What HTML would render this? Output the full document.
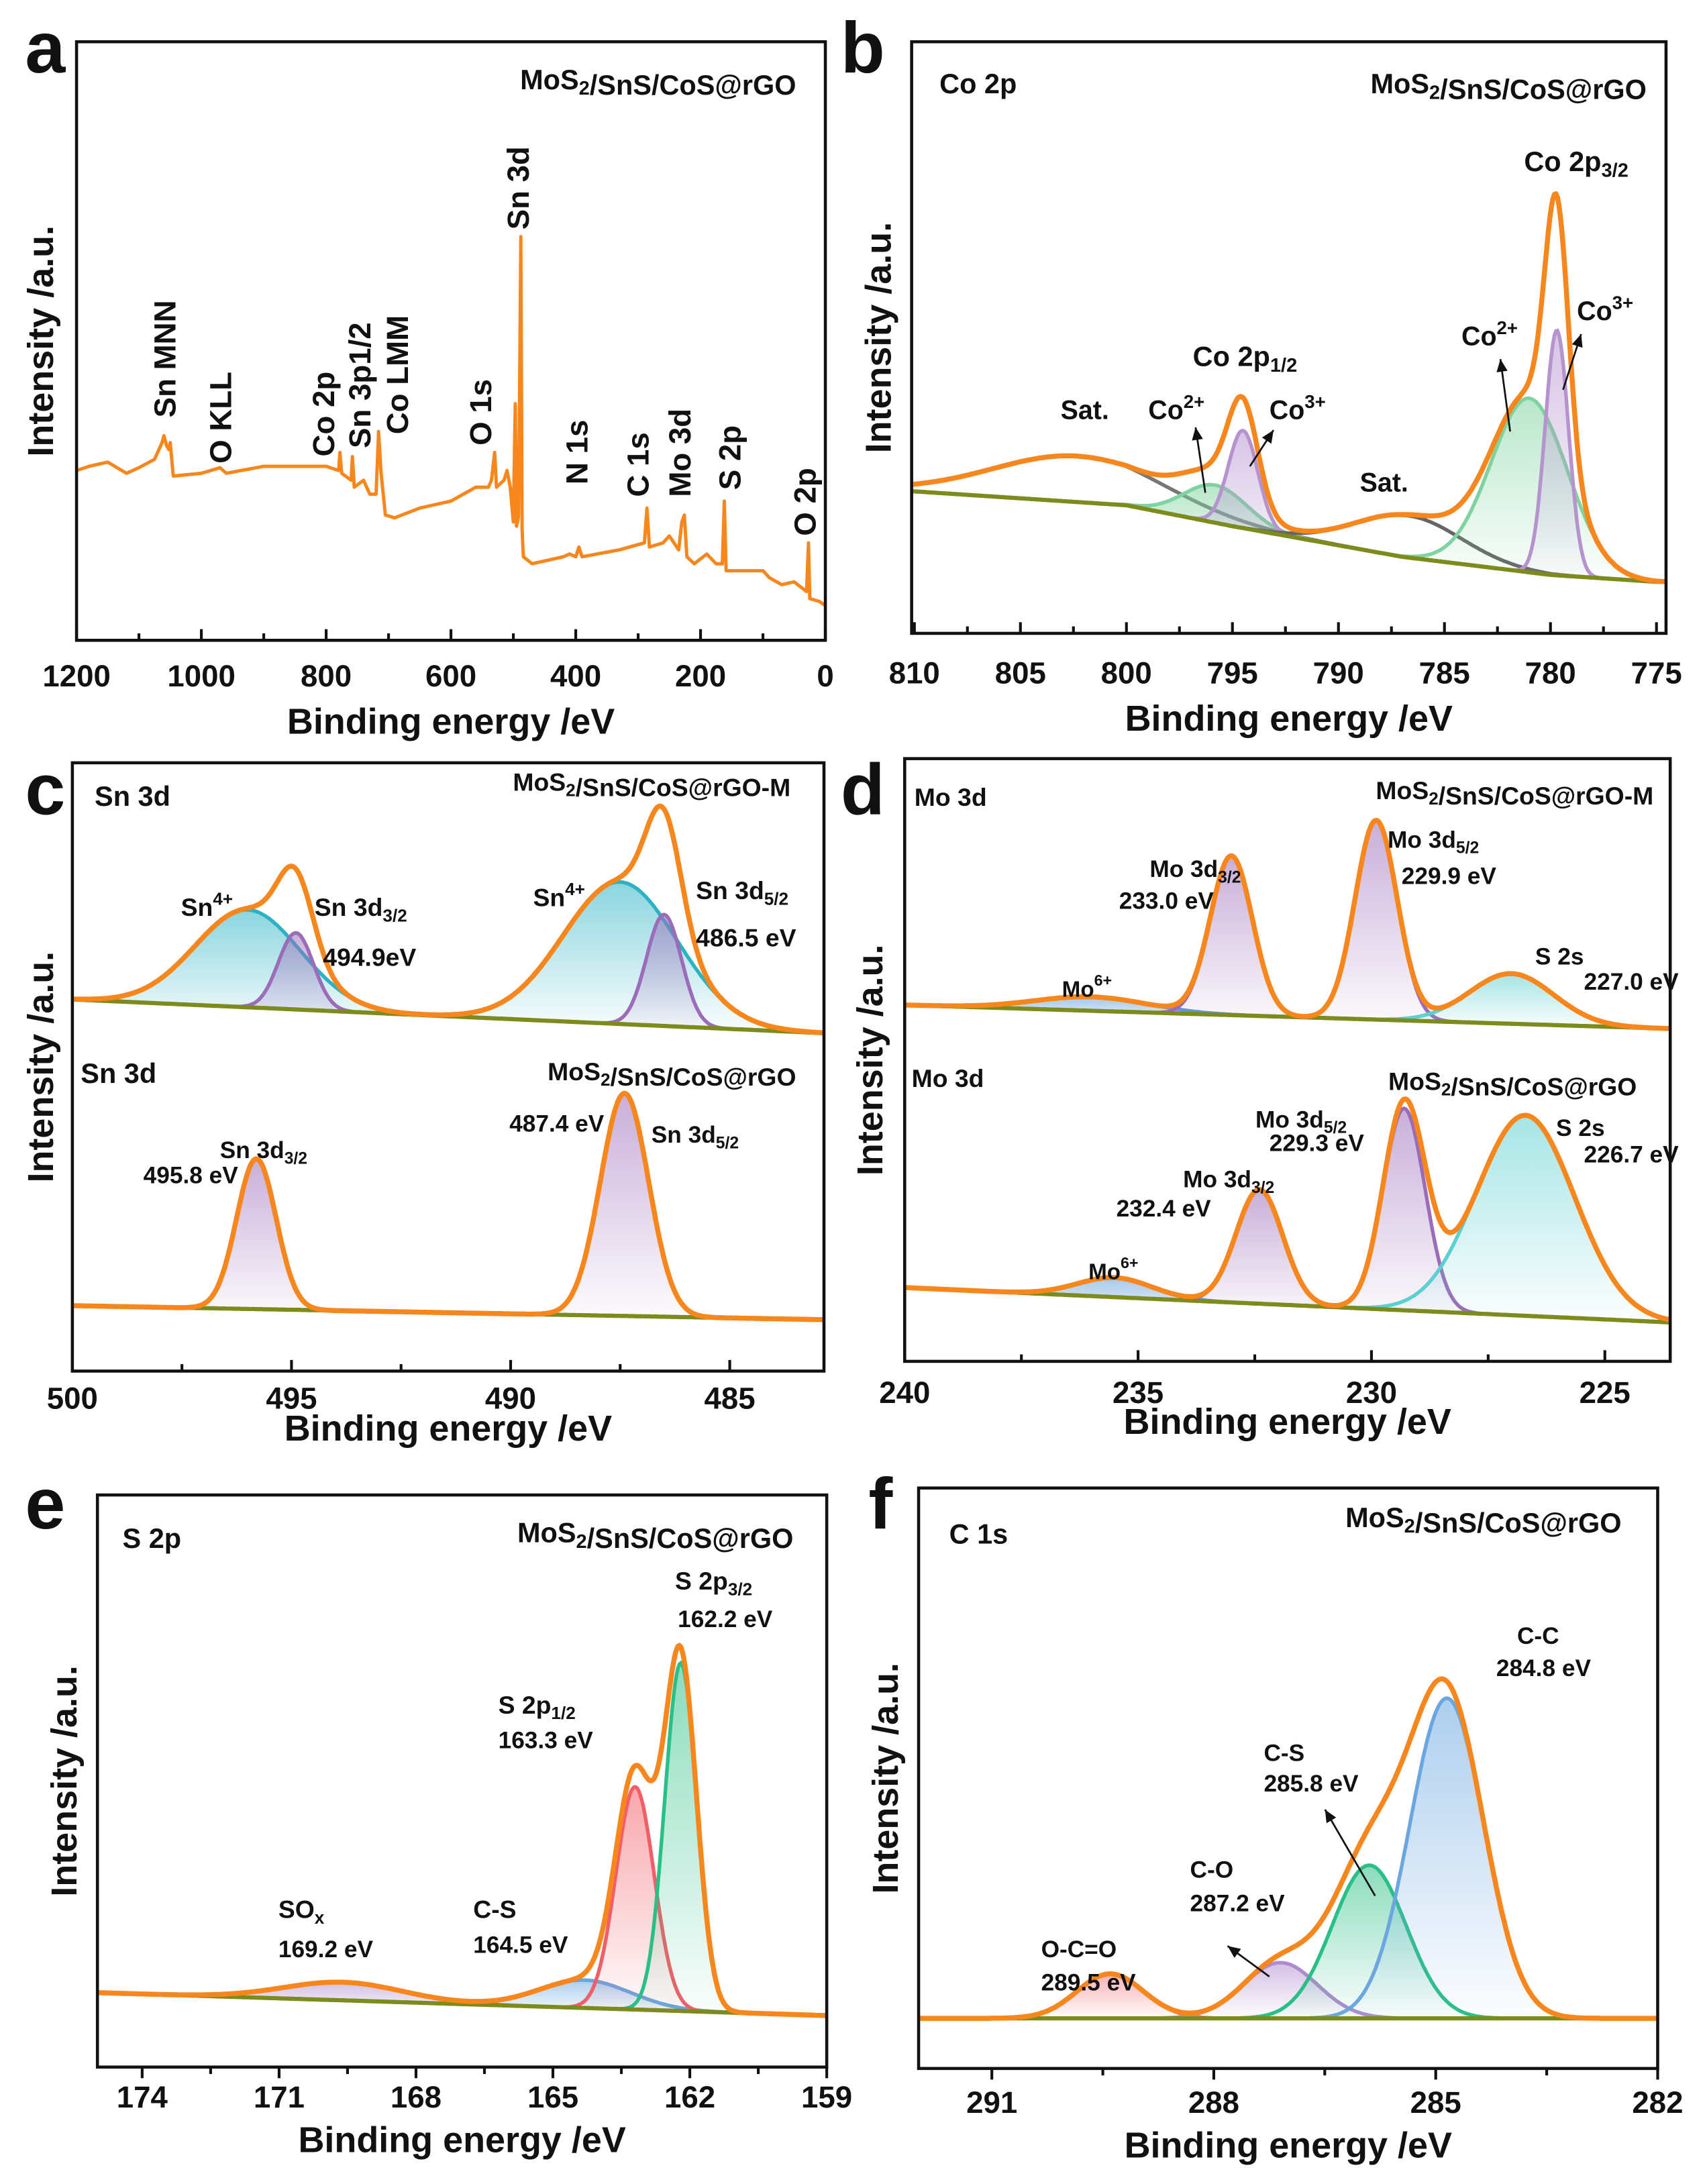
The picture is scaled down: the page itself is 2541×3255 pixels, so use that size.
<!DOCTYPE html>
<html><head><meta charset="utf-8"><style>
html,body{margin:0;padding:0;background:#fff}
svg{display:block}
text{font-family:"Liberation Sans",Arial,sans-serif;font-weight:bold;fill:#111}
</style></head><body>
<svg id="fig" xmlns="http://www.w3.org/2000/svg" width="2541" height="3255" viewBox="0 0 1225 1569" preserveAspectRatio="none">
<defs></defs>
</svg>
<script>
// ---------- DATA ----------
const surveyE=[1200,1180,1150,1120,1100,1075,1063,1060,1056,1052,1050,1045,1000,970,960,900,850,800,780,778,775,760,758,755,740,730,720,716,712,705,690,650,600,560,540,535,530,527,515,510,505,500,497,495,492,490,488,486,484,470,420,410,400,395,390,330,290,286,282,260,250,235,230,226,222,210,190,175,165,162,159,145,100,90,70,50,30,27,25,10,0];
const surveyI=[122,125,128,120,124,130,142,147,140,137,142,118,120,124,120,125,125,125,122,135,120,115,132,110,115,105,105,150,120,90,88,95,100,110,110,115,135,110,115,122,110,85,170,82,88,175,290,80,60,55,60,62,60,67,60,65,70,95,67,70,75,65,85,90,60,55,62,55,55,100,50,50,50,45,40,42,35,70,30,28,25];
const surveyTicks=[1200,1000,800,600,400,200,0];
const bCenters=[802.3,795.8,794.5,786.7,781.0,779.7];
const bHeights=[33,27,70,30,125,176];
const bWidths=[4,1.5,0.7,2.5,1.8,0.55];
const bBaseE=[810,800,795,787,780,775];
const bBaseI=[102,92,77,55,42,37];
const bTicks=[810,805,800,795,790,785,780,775];
const cTopCenters=[496,494.9,487.5,486.5];
const cTopHeights=[70,55,102,80];
const cTopWidths=[1.2,0.4,1.3,0.4];
const cBotCenters=[495.8,487.4];
const cBotHeights=[108,160];
const cBotWidths=[0.45,0.55];
const cTicks=[500,495,490,485];
const dTopCenters=[236,233.0,229.9,227.0];
const dTopHeights=[10,114,143,36];
const dTopWidths=[1.2,0.45,0.45,0.9];
const dBotCenters=[235.5,232.4,229.3,226.7];
const dBotHeights=[14,82,145,144];
const dBotWidths=[0.8,0.5,0.45,1.05];
const dTicks=[240,235,230,225];
const eCenters=[169.6,164.3,163.2,162.2];
const eHeights=[13,20,160,250];
const eWidths=[1.3,1.0,0.42,0.35];
const eTicks=[174,171,168,165,162,159];
const fCenters=[289.4,287.1,285.9,284.85];
const fHeights=[32,40,110,230];
const fWidths=[0.45,0.5,0.5,0.5];
const fTicks=[291,288,285,282];

// ---------- HELPERS ----------
const NS="http://www.w3.org/2000/svg";
const svg=document.getElementById('fig');
const defs=svg.querySelector('defs');
function el(tag,attrs,parent){const e=document.createElementNS(NS,tag);for(const k in attrs)e.setAttribute(k,attrs[k]);(parent||svg).appendChild(e);return e;}
let gradN=0;
function grad(color){const id='g'+(gradN++);const g=el('linearGradient',{id:id,x1:0,y1:0,x2:0,y2:1},defs);el('stop',{offset:0,'stop-color':color,'stop-opacity':0.55},g);el('stop',{offset:1,'stop-color':color,'stop-opacity':0.02},g);return 'url(#'+id+')';}
function gauss(x,c,h,w){return h*Math.exp(-(x-c)*(x-c)/(2*w*w));}
function interp(x,xs,ys){for(let i=0;i<xs.length-1;i++){const a=xs[i],b=xs[i+1];if((x<=a&&x>=b)||(x>=a&&x<=b)){const t=(x-a)/(b-a);return ys[i]+t*(ys[i+1]-ys[i]);}}return x>xs[0]===xs[0]>xs[xs.length-1]?ys[0]:ys[ys.length-1];}
function txt(x,y,s,size,parent,anchor,name){const t=el('text',{x:x,y:y,'font-size':size,'text-anchor':anchor||'start'},parent);t.innerHTML=s;


return t;}
function sub(s){return '<tspan dy="4" font-size="0.7em">'+s+'</tspan><tspan dy="-4"></tspan>';}
function sup(s){return '<tspan dy="-8" font-size="0.7em">'+s+'</tspan><tspan dy="8"></tspan>';}
function arrow(x1,y1,x2,y2,p){const g=el('g',{},p);


el('line',{x1:x1,y1:y1,x2:x2,y2:y2,stroke:'#111','stroke-width':1.3},g);const a=Math.atan2(y2-y1,x2-x1),L=9,W=4;
el('polygon',{points:[x2,y2,x2-L*Math.cos(a)+W*Math.sin(a),y2-L*Math.sin(a)-W*Math.cos(a),x2-L*Math.cos(a)-W*Math.sin(a),y2-L*Math.sin(a)+W*Math.cos(a)].join(','),fill:'#111'},g);}

function panel(opt){
  const g=el('g',{});
  
  
  const X=e=>opt.x0+(e-opt.e0)/(opt.e1-opt.e0)*(opt.x1-opt.x0);
  opt.X=X;opt.g=g;
  const clip='cl'+opt.id;const cp=el('clipPath',{id:clip},defs);el('rect',{x:opt.x0,y:opt.y0,width:opt.x1-opt.x0,height:opt.y1-opt.y0},cp);
  opt.plot=el('g',{'clip-path':'url(#'+clip+')'},g);
  
  
  const fr=el('rect',{x:opt.x0,y:opt.y0,width:opt.x1-opt.x0,height:opt.y1-opt.y0,fill:'none',stroke:'#111','stroke-width':2.2},g);
  
  
  const ax=el('g',{},g);
  
  
  const dir=opt.out?1:-1;
  opt.ticks.forEach((t,i)=>{const x=X(t);el('line',{x1:x,y1:opt.y1,x2:x,y2:opt.y1+dir*8,stroke:'#111','stroke-width':2},ax);
    if(i<opt.ticks.length-1){const xm=X((t+opt.ticks[i+1])/2);el('line',{x1:xm,y1:opt.y1,x2:xm,y2:opt.y1+dir*5,stroke:'#111','stroke-width':2},ax);}
    txt(x,opt.tly,String(t),22,ax,'middle','x-tick-label');});
  txt((opt.x0+opt.x1)/2,opt.ttl,'Binding energy /eV',26,ax,'middle','x-axis-title');
  const yt=txt(0,0,'Intensity /a.u.',26,g,'middle','y-axis-title');yt.setAttribute('transform','translate('+opt.ytx+','+((opt.y0+opt.y1)/2)+') rotate(-90)');
  txt(opt.lx,opt.ly,opt.id,52,g,'start','panel-letter').setAttribute('fill','#1a1010');
  return opt;
}
function spectrum(p,centers,heights,widths,colors,baseFn,ybase,name,lineOnly){
  const g=el('g',{},p.plot);
  
  
  const e0=p.e0,e1=p.e1,N=500;const xs=[];for(let i=0;i<=N;i++)xs.push(e0+(e1-e0)*i/N);
  const Y=v=>ybase-v;
  centers.forEach((c,k)=>{
    let top='',bot=[];xs.forEach((e,i)=>{const b=baseFn(e);const v=b+gauss(e,c,heights[k],widths[k]);top+=(i?'L':'M')+p.X(e).toFixed(1)+','+Y(v).toFixed(1);bot.push(p.X(e).toFixed(1)+','+Y(b).toFixed(1));});
    if(!(lineOnly&&lineOnly[k])){const f=el('path',{d:top+'L'+bot.reverse().join('L')+'Z',fill:grad(colors[k]),stroke:'none'},g);
      
      }
    const l=el('path',{d:top,fill:'none',stroke:colors[k],'stroke-width':2.6},g);
    
    
  });
  let bd='';xs.forEach((e,i)=>{bd+=(i?'L':'M')+p.X(e).toFixed(1)+','+Y(baseFn(e)).toFixed(1);});
  const bl=el('path',{d:bd,fill:'none',stroke:'#7d8a1c','stroke-width':3},g);
  
  
  let ed='';xs.forEach((e,i)=>{let v=baseFn(e);centers.forEach((c,k)=>v+=gauss(e,c,heights[k],widths[k]));ed+=(i?'L':'M')+p.X(e).toFixed(1)+','+Y(v).toFixed(1);});
  const en=el('path',{d:ed,fill:'none',stroke:'#f7861c','stroke-width':3.6,'stroke-linejoin':'round'},g);
  
  
}

// ---------- PANEL A ----------
const A=panel({id:'a',x0:55,x1:593,y0:30,y1:460,e0:1200,e1:0,ticks:surveyTicks,tly:493,ttl:527,ytx:38,lx:18,ly:52});
{let d='';surveyE.forEach((e,i)=>{d+=(i?'L':'M')+A.X(e).toFixed(1)+','+(460-surveyI[i]).toFixed(1);});
const s=el('path',{d:d,fill:'none',stroke:'#f7861c','stroke-width':2.4,'stroke-linejoin':'round'},A.plot);

}
txt(572,64,'MoS'+sub('2')+'/SnS/CoS@rGO',20,A.g,'end','sample-title');
[['Sn MNN',118,300],['O KLL',158,333],['Co 2p',232,328],['Sn 3p1/2',258,322],['Co LMM',285,312],['O 1s',345,320],['Sn 3d',372,165],['N 1s',414,348],['C 1s',458,357],['Mo 3d',488,357],['S 2p',524,352],['O 2p',578,385]].forEach(a=>{const t=txt(0,0,a[0],22,A.g,'start','peak-label');t.setAttribute('transform','translate('+(a[1]+8)+','+a[2]+') rotate(-90)');});

// ---------- PANEL B ----------
const B=panel({id:'b',x0:655,x1:1197,y0:30,y1:455,e0:810.13,e1:774.55,ticks:bTicks,tly:491,ttl:525,ytx:640,lx:604,ly:52});
spectrum(B,bCenters,bHeights,bWidths,['#777777','#7fd3a0','#b693cf','#666666','#7fd3a0','#b693cf'],e=>interp(e,bBaseE,bBaseI),455,'co2p-fit',[true,false,false,true,false,false]);
txt(675,67,'Co 2p',20,B.g,'start','region-label');
txt(1183,67,'MoS'+sub('2')+'/SnS/CoS@rGO',20,B.g,'end','sample-title');
txt(1095,123,'Co 2p'+sub('3/2'),20,B.g,'start','peak-label');
txt(1133,230,'Co'+sup('3+'),19,B.g,'start','peak-label');
txt(1050,248,'Co'+sup('2+'),19,B.g,'start','peak-label');
txt(857,263,'Co 2p'+sub('1/2'),20,B.g,'start','peak-label');
txt(762,301,'Sat.',19,B.g,'start','peak-label');
txt(825,301,'Co'+sup('2+'),19,B.g,'start','peak-label');
txt(912,301,'Co'+sup('3+'),19,B.g,'start','peak-label');
txt(977,353,'Sat.',19,B.g,'start','peak-label');
arrow(866,354,859,307,B.g);arrow(898,335,915,309);arrow(1085,310,1078,258);arrow(1123,280,1136,240);

// ---------- PANEL C ----------
const C=panel({id:'c',x0:52,x1:592,y0:548,y1:985,e0:500,e1:482.85,ticks:cTicks,tly:1012,ttl:1035,ytx:38,lx:18,ly:585});
spectrum(C,cTopCenters,cTopHeights,cTopWidths,['#2bb3c4','#9b6cb8','#2bb3c4','#9b6cb8'],e=>17+(500-e)*(-24/17),735,'sn3d-m-fit');
spectrum(C,cBotCenters,cBotHeights,cBotWidths,['#9b6cb8','#9b6cb8'],e=>12-(500-e)*(10/17),950,'sn3d-fit');
txt(68,579,'Sn 3d',20,C.g,'start','region-label');
txt(568,568,'MoS'+sub('2')+'/SnS/CoS@rGO-M',18,C.g,'end','sample-title');
txt(130,658,'Sn'+sup('4+'),18,C.g,'start','peak-label');
txt(226,658,'Sn 3d'+sub('3/2'),18,C.g,'start','peak-label');
txt(232,694,'494.9eV',18,C.g,'start','peak-label');
txt(383,651,'Sn'+sup('4+'),18,C.g,'start','peak-label');
txt(500,646,'Sn 3d'+sub('5/2'),18,C.g,'start','peak-label');
txt(500,680,'486.5 eV',18,C.g,'start','peak-label');
txt(58,778,'Sn 3d',20,C.g,'start','region-label');
txt(572,776,'MoS'+sub('2')+'/SnS/CoS@rGO',18,C.g,'end','sample-title');
txt(103,850,'495.8 eV',17,C.g,'start','peak-label');
txt(158,832,'Sn 3d'+sub('3/2'),17,C.g,'start','peak-label');
txt(366,813,'487.4 eV',17,C.g,'start','peak-label');
txt(468,821,'Sn 3d'+sub('5/2'),17,C.g,'start','peak-label');

// ---------- PANEL D ----------
const D=panel({id:'d',x0:650,x1:1200,y0:545,y1:978,e0:240,e1:223.6,ticks:dTicks,tly:1008,ttl:1030,ytx:634,lx:604,ly:585});
spectrum(D,dTopCenters,dTopHeights,dTopWidths,['#5b9bdc','#9b6cb8','#9b6cb8','#5ccfd0'],e=>18-(240-e)*(17/16.4),740,'mo3d-m-fit');
spectrum(D,dBotCenters,dBotHeights,dBotWidths,['#5b9bdc','#9b6cb8','#9b6cb8','#5ccfd0'],e=>25-(240-e)*(25/16.4),950,'mo3d-fit');
txt(657,579,'Mo 3d',18,D.g,'start','region-label');
txt(1188,574,'MoS'+sub('2')+'/SnS/CoS@rGO-M',18,D.g,'end','sample-title');
txt(826,630,'Mo 3d'+sub('3/2'),17,D.g,'start','peak-label');
txt(804,653,'233.0 eV',17,D.g,'start','peak-label');
txt(997,609,'Mo 3d'+sub('5/2'),17,D.g,'start','peak-label');
txt(1007,635,'229.9 eV',17,D.g,'start','peak-label');
txt(763,716,'Mo'+sup('6+'),16,D.g,'start','peak-label');
txt(1103,693,'S 2s',17,D.g,'start','peak-label');
txt(1138,711,'227.0 eV',17,D.g,'start','peak-label');
txt(655,781,'Mo 3d',18,D.g,'start','region-label');
txt(1176,783,'MoS'+sub('2')+'/SnS/CoS@rGO',18,D.g,'end','sample-title');
txt(902,810,'Mo 3d'+sub('5/2'),17,D.g,'start','peak-label');
txt(912,827,'229.3 eV',17,D.g,'start','peak-label');
txt(850,853,'Mo 3d'+sub('3/2'),17,D.g,'start','peak-label');
txt(802,874,'232.4 eV',17,D.g,'start','peak-label');
txt(782,919,'Mo'+sup('6+'),16,D.g,'start','peak-label');
txt(1118,816,'S 2s',17,D.g,'start','peak-label');
txt(1138,835,'226.7 eV',17,D.g,'start','peak-label');

// ---------- PANEL E ----------
const E=panel({id:'e',x0:70,x1:594,y0:1074,y1:1485,e0:174.98,e1:159.0,ticks:eTicks,tly:1514,ttl:1546,ytx:55,lx:18,ly:1098,out:true});
spectrum(E,eCenters,eHeights,eWidths,['#b08ccf','#6aa6e0','#f25e68','#2bbf88'],e=>18-(174.5-e)*(16/15.5),1450,'s2p-fit');
txt(88,1112,'S 2p',20,E.g,'start','region-label');
txt(570,1108,'MoS'+sub('2')+'/SnS/CoS@rGO',20,E.g,'end','sample-title');
txt(485,1142,'S 2p'+sub('3/2'),18,E.g,'start','peak-label');
txt(487,1169,'162.2 eV',17,E.g,'start','peak-label');
txt(358,1231,'S 2p'+sub('1/2'),18,E.g,'start','peak-label');
txt(358,1256,'163.3 eV',17,E.g,'start','peak-label');
txt(200,1378,'SO'+sub('x'),18,E.g,'start','peak-label');
txt(200,1406,'169.2 eV',17,E.g,'start','peak-label');
txt(340,1378,'C-S',18,E.g,'start','peak-label');
txt(340,1403,'164.5 eV',17,E.g,'start','peak-label');

// ---------- PANEL F ----------
const F=panel({id:'f',x0:660,x1:1191,y0:1069,y1:1486,e0:291.99,e1:282,ticks:fTicks,tly:1518,ttl:1550,ytx:645,lx:624,ly:1098,out:true});
spectrum(F,fCenters,fHeights,fWidths,['#f2707a','#b08ccf','#2bbf88','#6aa6e0'],e=>0,1450,'c1s-fit');
txt(682,1109,'C 1s',20,F.g,'start','region-label');
txt(1165,1097,'MoS'+sub('2')+'/SnS/CoS@rGO',20,F.g,'end','sample-title');
txt(1090,1181,'C-C',17,F.g,'start','peak-label');
txt(1075,1204,'284.8 eV',17,F.g,'start','peak-label');
txt(908,1265,'C-S',17,F.g,'start','peak-label');
txt(908,1287,'285.8 eV',17,F.g,'start','peak-label');
txt(855,1349,'C-O',17,F.g,'start','peak-label');
txt(855,1373,'287.2 eV',17,F.g,'start','peak-label');
txt(748,1406,'O-C=O',17,F.g,'start','peak-label');
txt(748,1430,'289.5 eV',17,F.g,'start','peak-label');
arrow(988,1362,952,1300,F.g);arrow(912,1420,882,1398,F.g);
</script>
</body></html>
